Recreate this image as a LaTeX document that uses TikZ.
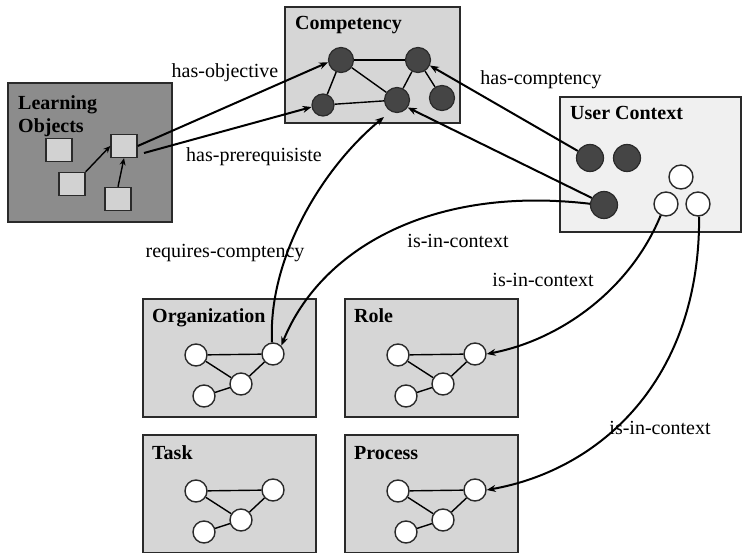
\documentclass[tikz,border=0pt]{standalone}
\usepackage{fontspec}
\setmainfont{Liberation Serif}
\usetikzlibrary{arrows.meta}
\definecolor{edgegray}{HTML}{2A2A2A}
\definecolor{lofill}{HTML}{8C8C8C}
\definecolor{boxfill}{HTML}{D6D6D6}
\definecolor{ucfill}{HTML}{F0F0F0}
\definecolor{sqfill}{HTML}{D2D2D2}
\definecolor{dotfill}{HTML}{454545}
\tikzset{
  panel/.style={draw=edgegray, line width=1.6pt, rectangle, inner sep=0pt},
  title/.style={anchor=base west, inner sep=0pt, font=\bfseries\fontsize{20}{23}\selectfont, align=left},
  lbl/.style={inner sep=0pt, font=\fontsize{20}{23}\selectfont},
  sq/.style={draw=edgegray, line width=1.4pt, fill=sqfill, minimum width=26pt, minimum height=23pt, inner sep=0pt},
  dk/.style={circle, draw=edgegray, line width=1.2pt, fill=dotfill, inner sep=0pt, minimum size=25pt},
  wt/.style={circle, draw=edgegray, line width=1.4pt, fill=white, inner sep=0pt, minimum size=24pt},
  sm/.style={circle, draw=edgegray, line width=1.4pt, fill=white, inner sep=0pt, minimum size=22pt},
  link/.style={draw=black, line width=1.4pt},
  rel/.style={draw=black, line width=2pt, -{Stealth[length=9pt,width=7pt]}},
}
\begin{document}
\begin{tikzpicture}[x=1pt, y=-1pt]
\useasboundingbox (0,0) rectangle (742,553);

% Learning objects panel
\node[panel, fill=lofill, minimum width=164pt, minimum height=139pt] (lo) at (90,152.5) {};
\node[title] (lot) at (18,110) {Learning};
\node[title] (lot2) at (18,133) {Objects};
\node[sq] (s1) at (59,150) {};
\node[sq] (s2) at (124,146) {};
\node[sq] (s3) at (72,184) {};
\node[sq] (s4) at (118,199) {};
\draw[link, -{Stealth[length=7pt,width=6pt]}] (s3.north east) -- (s2.west);
\draw[link, -{Stealth[length=7pt,width=6pt]}] (s4.north) -- (s2.south);

% Competency panel
\node[panel, fill=boxfill, minimum width=175pt, minimum height=116pt] (comp) at (372.5,65) {};
\node[title] (compt) at (295,30) {Competency};
\node[dk] (c1) at (341,60) {};
\node[dk] (c2) at (418,60) {};
\node[dk, minimum size=22pt] (c3) at (323,105) {};
\node[dk] (c4) at (397,100) {};
\node[dk] (c5) at (442,98) {};
\draw[link] (c1) -- (c2);
\draw[link] (c1) -- (c3);
\draw[link] (c1) -- (c4);
\draw[link] (c3) -- (c4);
\draw[link] (c2) -- (c4);
\draw[link] (c2) -- (c5);
\coordinate (compin) at (384,117);

% User context panel
\node[panel, fill=ucfill, minimum width=181pt, minimum height=135pt] (uc) at (650.5,164.5) {};
\node[title] (uct) at (570,120) {User Context};
\node[dk, minimum size=27pt] (d1) at (590,158) {};
\node[dk, minimum size=27pt] (d2) at (627,158) {};
\node[dk, minimum size=27pt] (d3) at (604,205) {};
\node[wt] (w1) at (681,177) {};
\node[wt] (w2) at (666,204) {};
\node[wt] (w3) at (698,204) {};

% Context panels with their small graphs
\foreach \n/\t/\dx/\dy in {org/Organization/0/0, role/Role/202/0, task/Task/0/136, proc/Process/202/136} {
  \begin{scope}[shift={(\dx,\dy)}]
    \node[panel, fill=boxfill, minimum width=173pt, minimum height=118pt] (\n) at (229.5,358) {};
    \node[title] (\n-t) at (152,323) {\t};
    \node[sm] (\n-a) at (196,355) {};
    \node[sm] (\n-b) at (273,354) {};
    \node[sm] (\n-c) at (241,384) {};
    \node[sm] (\n-d) at (204,396) {};
    \draw[link] (\n-a) -- (\n-b);
    \draw[link] (\n-a) -- (\n-c);
    \draw[link] (\n-c) -- (\n-b);
    \draw[link] (\n-d) -- (\n-c);
  \end{scope}
}

% Relations
\draw[rel] (s2.east) -- (c1.190);
\coordinate (pre) at (144,153);
\draw[rel] (pre) -- (c3.190);
\draw[rel] (d1.150) -- (c2.-25);
\draw[rel] (d3.150) -- (c4.-35);
\draw[rel] (d3.175) .. controls (430,185) and (320,250) .. (org-b.45);
\draw[rel] (org-b.95) .. controls (268,260) and (320,170) .. (compin);
\draw[rel] (w2.-115) .. controls (630,290) and (560,340) .. (role-b.east);
\draw[rel] (w3.-85) .. controls (700,380) and (600,470) .. (proc-b.east);

% Relation labels
\node[lbl] (l1) at (225,73) {has-objective};
\node[lbl] (l2) at (254,157) {has-prerequisiste};
\node[lbl] (l3) at (541,80) {has-comptency};
\node[lbl] (l4) at (458,241) {is-in-context};
\node[lbl] (l5) at (225,253) {requires-comptency};
\node[lbl] (l6) at (543,280) {is-in-context};
\node[lbl] (l7) at (660,428) {is-in-context};
\end{tikzpicture}
\end{document}
